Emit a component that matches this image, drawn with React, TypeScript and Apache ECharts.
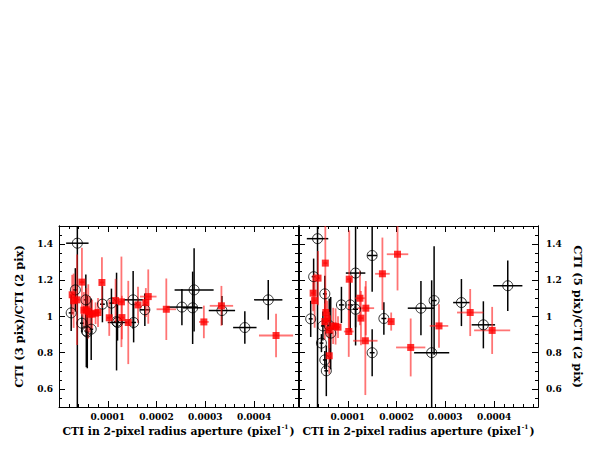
import React, { useEffect, useRef } from "react";
import * as echarts from "echarts";

// x in units of 1e-4 (CTI in 2-pixel aperture), y ratio; [x, y, xerr, yerr]
const leftBlack: number[][] = [
  [0.376, 1.405, 0.23, 1.0], [0.25, 1.02, 0.05, 0.1], [0.335, 1.147, 0.05, 0.12],
  [0.47, 0.963, 0.04, 0.05], [0.55, 1.092, 0.04, 0.14], [0.56, 0.92, 0.04, 0.2],
  [0.58, 0.914, 0.04, 0.2], [0.66, 0.93, 0.04, 0.17], [0.89, 1.068, 0.05, 0.1],
  [1.075, 1.074, 0.05, 0.08], [1.18, 0.972, 0.05, 0.27], [1.2, 0.967, 0.2, 0.1],
  [1.52, 1.092, 0.2, 0.16], [1.53, 0.967, 0.05, 0.11], [1.76, 1.037, 0.1, 0.09],
  [2.52, 1.052, 0.32, 0.1], [2.74, 1.048, 0.2, 0.2], [2.77, 1.147, 0.4, 0.23],
  [3.34, 1.033, 0.27, 0.08], [3.81, 0.939, 0.24, 0.09], [4.29, 1.092, 0.29, 0.11],
];
const leftRed: number[][] = [
  [0.27, 1.12, 0.05, 0.11], [0.3, 1.087, 0.05, 0.15], [0.37, 1.092, 0.05, 0.25],
  [0.47, 1.19, 0.05, 0.19], [0.51, 1.035, 0.05, 0.1], [0.56, 1.037, 0.05, 0.12],
  [0.6, 1.028, 0.05, 0.15], [0.63, 1.013, 0.05, 0.1], [0.68, 1.013, 0.05, 0.08],
  [0.75, 1.018, 0.05, 0.06], [0.8, 1.022, 0.05, 0.08], [0.88, 1.188, 0.05, 0.14],
  [1.03, 0.993, 0.05, 0.1], [1.16, 1.088, 0.05, 0.12], [1.28, 1.081, 0.05, 0.25],
  [1.29, 0.994, 0.05, 0.12], [1.42, 0.967, 0.05, 0.23], [1.62, 1.064, 0.05, 0.1],
  [1.78, 1.077, 0.05, 0.08], [1.83, 1.11, 0.17, 0.15], [2.2, 1.04, 0.2, 0.17],
  [2.97, 0.97, 0.1, 0.09], [3.33, 1.059, 0.24, 0.11], [4.45, 0.895, 0.35, 0.12],
];
const rightBlack: number[][] = [
  [0.38, 1.43, 0.22, 1.0], [0.24, 0.987, 0.04, 0.1], [0.3, 1.22, 0.04, 0.1],
  [0.46, 0.853, 0.04, 0.05], [0.49, 0.948, 0.04, 0.08], [0.53, 1.125, 0.04, 0.1],
  [0.53, 0.76, 0.04, 0.05], [0.56, 0.7, 0.04, 0.14], [0.62, 0.95, 0.04, 0.15],
  [0.65, 0.908, 0.04, 0.2], [0.87, 1.064, 0.05, 0.1], [1.05, 1.064, 0.05, 0.15],
  [1.16, 1.24, 0.2, 0.3], [1.16, 1.04, 0.05, 0.2], [1.5, 1.337, 0.1, 0.2],
  [1.5, 0.8, 0.05, 0.13], [1.74, 0.989, 0.05, 0.09], [2.5, 1.046, 0.27, 0.15],
  [2.72, 0.8, 0.36, 0.4], [2.77, 1.088, 0.05, 0.3], [3.33, 1.077, 0.17, 0.13],
  [3.78, 0.954, 0.24, 0.13], [4.28, 1.17, 0.3, 0.14],
];
const rightRed: number[][] = [
  [0.29, 1.129, 0.04, 0.1], [0.32, 1.088, 0.04, 0.15], [0.39, 1.212, 0.04, 0.15],
  [0.54, 1.295, 0.04, 0.35], [0.53, 0.972, 0.04, 0.1], [0.55, 1.022, 0.04, 0.12],
  [0.58, 0.987, 0.04, 0.1], [0.62, 0.783, 0.04, 0.1], [0.62, 0.926, 0.04, 0.1],
  [0.7, 0.948, 0.04, 0.1], [0.75, 0.945, 0.04, 0.1], [0.8, 0.941, 0.04, 0.06],
  [1.02, 0.917, 0.1, 0.14], [1.03, 1.206, 0.05, 0.27], [1.25, 1.101, 0.1, 0.15],
  [1.27, 0.991, 0.05, 0.15], [1.36, 0.866, 0.25, 0.3], [1.37, 1.046, 0.17, 0.15],
  [1.71, 1.236, 0.15, 0.2], [1.89, 0.972, 0.05, 0.05], [2.02, 1.344, 0.22, 0.2],
  [2.29, 0.829, 0.3, 0.16], [2.87, 0.948, 0.19, 0.12], [3.51, 1.022, 0.27, 0.13],
  [3.96, 0.923, 0.37, 0.13],
];

const yMajor = [0.6, 0.8, 1, 1.2, 1.4];
const yMinorStep = 0.05;
const xTickLabels = ["0.0001", "0.0002", "0.0003", "0.0004"];
const xMax = 4.9;
const yMin = 0.5;
const yMax = 1.5;
const xTitle = "CTI in 2-pixel radius aperture (pixel";
const yTitleLeft = "CTI (3 pix)/CTI (2 pix)";
const yTitleRight = "CTI (5 pix)/CTI (2 pix)";

const FONT = "DejaVu Serif";

function errorSeries(data: number[][], xi: number, yi: number, color: string, width: number) {
  return {
    type: "custom",
    xAxisIndex: xi,
    yAxisIndex: yi,
    clip: true,
    silent: true,
    encode: { x: 0, y: 1 },
    data,
    renderItem: (_p: any, api: any) => {
      const x = api.value(0), y = api.value(1), xe = api.value(2), ye = api.value(3);
      const c = api.coord([x, y]);
      const l = api.coord([x - xe, y]);
      const r = api.coord([x + xe, y]);
      const t = api.coord([x, y + ye]);
      const b = api.coord([x, y - ye]);
      const style = { stroke: color, lineWidth: width };
      return {
        type: "group",
        children: [
          { type: "line", shape: { x1: l[0], y1: c[1], x2: r[0], y2: c[1] }, style },
          { type: "line", shape: { x1: c[0], y1: t[1], x2: c[0], y2: b[1] }, style },
        ],
      };
    },
  };
}

function xAxes(gridIndex: number) {
  const base = {
    gridIndex,
    type: "value",
    min: 0,
    max: xMax,
    interval: 1,
    splitLine: { show: false },
    axisLine: { show: true, onZero: false, lineStyle: { color: "#000", width: 1 } },
    axisTick: { show: true, inside: true, length: 6, lineStyle: { color: "#000" } },
    minorTick: { show: true, splitNumber: 5, length: 3, lineStyle: { color: "#000" } },
    minorSplitLine: { show: false },
  };
  return [
    {
      ...base,
      position: "bottom",
      axisLabel: {
        show: true,
        margin: 5,
        fontFamily: FONT,
        fontWeight: "bold",
        fontSize: 9,
        color: "#000",
        showMinLabel: false,
        showMaxLabel: false,
        formatter: (v: number) => {
          const k = Math.round(v);
          if (Math.abs(v - k) > 1e-6 || k < 1 || k > xTickLabels.length) return "";
          return xTickLabels[k - 1];
        },
      },
      name: `{a|${xTitle}}{s|-1}{a|)}`,
      nameLocation: "middle",
      nameGap: 16,
      nameTextStyle: {
        rich: {
          a: { fontFamily: FONT, fontSize: 10.8, color: "#000", fontWeight: "bold", lineHeight: 14, verticalAlign: "bottom" },
          s: { fontFamily: FONT, fontSize: 6, color: "#000", fontWeight: "bold", lineHeight: 14, verticalAlign: "top", padding: [0, 1, 6, 1] },
        },
      },
    },
    { ...base, position: "top", axisLabel: { show: false } },
  ];
}

function yAxes(gridIndex: number, labelSide: "left" | "right") {
  const base = {
    gridIndex,
    type: "value",
    min: yMin,
    max: yMax,
    splitLine: { show: false },
    axisLine: { show: true, onZero: false, lineStyle: { color: "#000", width: 1 } },
  };
  const minorAxis = (pos: string) => ({
    ...base,
    position: pos,
    interval: yMinorStep,
    axisTick: { show: true, inside: true, length: 3, lineStyle: { color: "#000" } },
    axisLabel: { show: false },
  });
  const majorAxis = (pos: string, labels: boolean) => ({
    ...base,
    position: pos,
    interval: yMinorStep,
    axisTick: { show: true, inside: true, length: 6, customValues: yMajor, lineStyle: { color: "#000" } },
    axisLabel: labels
      ? {
          show: true,
          customValues: yMajor,
          margin: pos === "left" ? 6 : 8,
          fontFamily: FONT,
          fontWeight: "bold",
          fontSize: 9,
          color: "#000",
          formatter: (v: number) => String(Math.round(v * 10) / 10),
        }
      : { show: false },
    ...(labels
      ? {
          name: pos === "left" ? yTitleLeft : yTitleRight,
          nameLocation: "middle",
          nameRotate: pos === "left" ? 90 : -90,
          nameGap: pos === "left" ? 34 : 34,
          nameTextStyle: { fontFamily: FONT, fontSize: 11.5, fontWeight: "bold", color: "#000" },
        }
      : {}),
  });
  return [
    minorAxis("left"),
    majorAxis("left", labelSide === "left"),
    minorAxis("right"),
    majorAxis("right", labelSide === "right"),
  ];
}

export default function App() {
  const ref = useRef<HTMLDivElement>(null);
  useEffect(() => {
    if (!ref.current) return;
    const chart = echarts.init(ref.current, undefined, { renderer: "svg" });
    const blackErr = "#000";
    const redErr = "rgba(255,30,30,0.62)";
    const option: any = {
      animation: false,
      backgroundColor: "#fff",
      grid: [
        { left: 59, top: 226, width: 239, height: 181 },
        { left: 299, top: 226, width: 239, height: 181 },
      ],
      xAxis: [...xAxes(0), ...xAxes(1)],
      yAxis: [...yAxes(0, "left"), ...yAxes(1, "right")],
      series: [
        errorSeries(leftBlack, 0, 0, blackErr, 1.5),
        {
          type: "scatter", xAxisIndex: 0, yAxisIndex: 0, data: leftBlack.map((d) => [d[0], d[1]]),
          symbol: "circle", symbolSize: 10,
          itemStyle: { color: "rgba(0,0,0,0)", borderColor: "#000", borderWidth: 1 },
        },
        errorSeries(leftRed, 0, 0, redErr, 1.8),
        {
          type: "scatter", xAxisIndex: 0, yAxisIndex: 0, data: leftRed.map((d) => [d[0], d[1]]),
          symbol: "rect", symbolSize: 7, itemStyle: { color: "#ff0000" },
        },
        errorSeries(rightBlack, 2, 4, blackErr, 1.5),
        {
          type: "scatter", xAxisIndex: 2, yAxisIndex: 4, data: rightBlack.map((d) => [d[0], d[1]]),
          symbol: "circle", symbolSize: 10,
          itemStyle: { color: "rgba(0,0,0,0)", borderColor: "#000", borderWidth: 1 },
        },
        errorSeries(rightRed, 2, 4, redErr, 1.8),
        {
          type: "scatter", xAxisIndex: 2, yAxisIndex: 4, data: rightRed.map((d) => [d[0], d[1]]),
          symbol: "rect", symbolSize: 7, itemStyle: { color: "#ff0000" },
        },
      ],
    };
    chart.setOption(option);
    return () => chart.dispose();
  }, []);
  return (
    <div
      ref={ref}
      style={{ position: "fixed", left: 0, top: 0, width: 598, height: 452, background: "#fff" }}
    />
  );
}
